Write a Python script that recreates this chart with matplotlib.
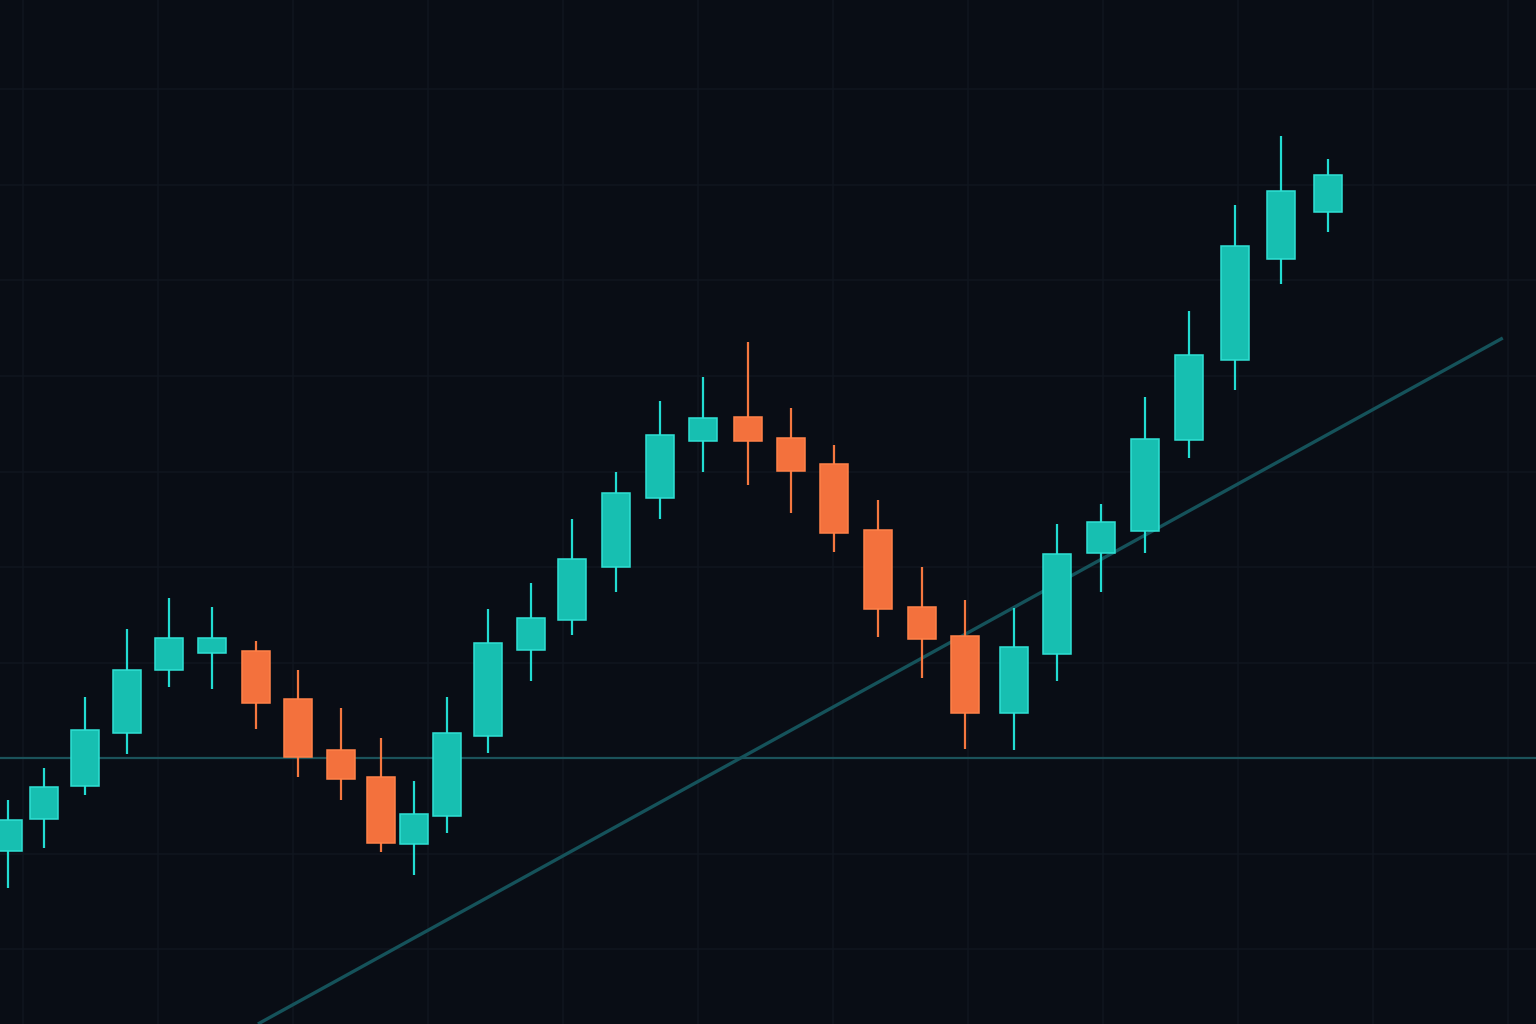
import numpy as np
import matplotlib
matplotlib.use("Agg")
import matplotlib.pyplot as plt

# session position of each candle
t = [0.00, 0.85, 1.81, 2.79, 3.78, 4.79, 5.82, 6.81, 7.82, 8.76, 9.53, 10.31,
     11.27, 12.28, 13.25, 14.28, 15.31, 16.32, 17.38, 18.39, 19.40, 20.43,
     21.47, 22.48, 23.63, 24.64, 25.67, 26.70, 27.74, 28.82, 29.90, 31.00]

opens = [90.26, 93.61, 97.07, 102.62, 109.21, 110.99, 111.20, 106.18, 100.84, 98.01,
         90.99, 93.93, 102.30, 111.31, 114.45, 120.00, 127.23, 133.19, 135.71, 133.51,
         130.79, 123.87, 115.81, 112.77, 104.71, 110.89, 121.47, 123.77, 133.30, 141.68,
         152.25, 157.17]
closes = [93.51, 96.96, 102.93, 109.21, 112.57, 112.57, 105.76, 100.10, 97.80, 91.10,
          94.14, 102.62, 112.04, 114.66, 120.84, 127.75, 133.82, 135.60, 133.19, 130.05,
          123.56, 115.60, 112.46, 104.71, 111.62, 121.36, 124.71, 133.40, 142.20, 153.61,
          159.37, 161.05]
highs = [95.60, 98.95, 106.39, 113.51, 116.75, 115.81, 112.25, 109.21, 105.24, 102.09,
         97.59, 106.39, 115.60, 118.32, 125.03, 129.95, 137.38, 139.90, 143.56, 136.65,
         132.77, 127.02, 120.00, 116.54, 115.71, 124.50, 126.60, 137.80, 146.81, 157.91,
         165.13, 162.72]
lows = [86.39, 90.58, 96.13, 100.42, 107.43, 107.23, 103.04, 98.01, 95.60, 90.16,
        87.75, 92.15, 100.52, 108.06, 112.88, 117.38, 125.03, 129.95, 128.59, 125.65,
        121.57, 112.67, 108.38, 100.94, 100.84, 108.06, 117.38, 121.47, 131.41, 138.53,
        149.63, 155.08]

support_level = 100.0
trend_t = [5.87, 35.11]
trend_p = [72.15, 143.98]

BG = "#090d15"
GRID = "#10161f"
UP_FILL, UP_EDGE, UP_WICK = "#17bfb1", "#2fe0d4", "#22dcd2"
DN_FILL, DN_EDGE, DN_WICK = "#f3713d", "#ff8148", "#f5773f"

fig = plt.figure(figsize=(15.36, 10.24), dpi=100, facecolor=BG)
ax = fig.add_axes([0, 0, 1, 1])
ax.set_facecolor(BG)

# faint background grid
for x in np.arange(0.352, 36, 3.17):
    ax.axvline(x, color=GRID, lw=1.1, zorder=0)
for y in np.arange(60, 190, 10):
    ax.axhline(y, color=GRID, lw=1.1, zorder=0)

ax.axhline(support_level, color="#1b525a", lw=1.6, zorder=1)
ax.plot(trend_t, trend_p, color="#15525a", lw=2.4, solid_capstyle="butt", zorder=1)

o = np.array(opens)
c = np.array(closes)
up = c >= o
wick_cols = [UP_WICK if u else DN_WICK for u in up]
ax.vlines(t, lows, highs, colors=wick_cols, lw=1.6, zorder=2)
ax.bar(t, c - o, bottom=o, width=0.658,
       color=[UP_FILL if u else DN_FILL for u in up],
       edgecolor=[UP_EDGE if u else DN_EDGE for u in up],
       linewidth=1.1, zorder=3)

ax.set_xlim(-0.188, 35.89)
ax.set_ylim(72.15, 179.37)
ax.axis("off")

fig.savefig("out.png", dpi=100, facecolor=BG)
